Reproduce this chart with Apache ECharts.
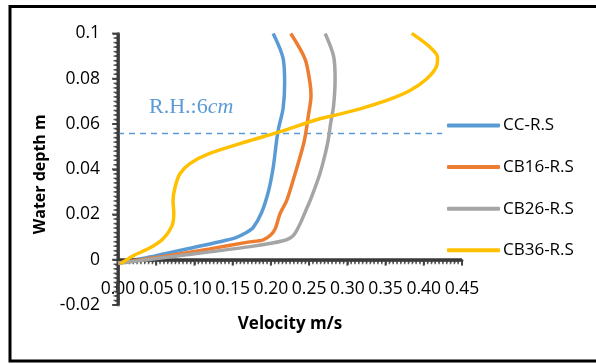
<!DOCTYPE html>
<html><head><meta charset="utf-8">
<script src="https://cdn.jsdelivr.net/npm/echarts@6/dist/echarts.min.js"></script>
<style>html,body{margin:0;padding:0;background:#fff}#c{width:596px;height:364px}</style>
</head><body><div id="c"></div>
<script>
const seriesNames = ['CC-R.S', 'CB16-R.S', 'CB26-R.S', 'CB36-R.S'];
const colors = ['#5B9BD5', '#ED7D31', '#A5A5A5', '#FFC000'];
// [velocity m/s, depth m]
const ccRS = [[0,-0.0015],[0.05,0.0018],[0.1,0.0055],[0.14,0.0085],[0.155,0.0099],[0.168,0.012],[0.177,0.0143],[0.188,0.021],[0.197,0.0305],[0.203,0.0408],[0.2075,0.0527],[0.21,0.058],[0.216,0.067],[0.218,0.078],[0.216,0.089],[0.203,0.1]];
const cb16RS = [[0,-0.0015],[0.06,0.0015],[0.12,0.0048],[0.17,0.0078],[0.19,0.0088],[0.2,0.011],[0.206,0.014],[0.212,0.0204],[0.2205,0.026],[0.229,0.035],[0.238,0.0453],[0.244,0.053],[0.249,0.0637],[0.2525,0.0726],[0.251,0.0785],[0.2446,0.0888],[0.226,0.1]];
const cb26RS = [[0,-0.0015],[0.08,0.0018],[0.173,0.0058],[0.216,0.0084],[0.229,0.0106],[0.238,0.0158],[0.2446,0.0209],[0.253,0.0276],[0.264,0.0379],[0.271,0.0467],[0.275,0.053],[0.278,0.06],[0.282,0.068],[0.284,0.08],[0.282,0.09],[0.271,0.1]];
const cb36RS = [[0.003,-0.0018],[0.02,0.0018],[0.042,0.0053],[0.059,0.0093],[0.0706,0.015],[0.073,0.0204],[0.072,0.026],[0.0746,0.032],[0.081,0.038],[0.094,0.0425],[0.12,0.047],[0.173,0.0527],[0.208,0.0562],[0.264,0.0623],[0.2817,0.0637],[0.3166,0.0667],[0.3515,0.0704],[0.382,0.0748],[0.404,0.08],[0.417,0.0858],[0.418,0.0895],[0.408,0.094],[0.3885,0.0991],[0.384,0.1]];
const rhLine = [[0,0.0558],[0.424,0.0558]];
const xTickLabels = ['0.00','0.05','0.10','0.15','0.20','0.25','0.30','0.35','0.40','0.45'];
const yTickLabels = ['-0.02','0','0.02','0.04','0.06','0.08','0.1'];
const allData = [ccRS, cb16RS, cb26RS, cb36RS];

const X_MIN = 0, X_MAX = 0.45, X_STEP = 0.05;
const Y_MIN = -0.02, Y_MAX = 0.1, Y_STEP = 0.02;
const MINOR = 10;
const INK = '#3a3a3a';
const INK2 = '#666666';

const font = 'Open Sans';
const chart = echarts.init(document.getElementById('c'));

// tick positions derived from the axis settings
const xMajor = xTickLabels.map((_, i) => [X_MIN + i * X_STEP, 0]);
const yMajor = yTickLabels.map((_, i) => [0, Y_MIN + i * Y_STEP]);
const xMinor = [], yMinor = [];
for (let i = 0; i <= (xTickLabels.length - 1) * MINOR; i++) if (i % MINOR) xMinor.push([X_MIN + i * X_STEP / MINOR, 0]);
for (let i = 0; i <= (yTickLabels.length - 1) * MINOR; i++) if (i % MINOR) yMinor.push([0, Y_MIN + i * Y_STEP / MINOR]);

const series = allData.map((d, i) => ({
  name: seriesNames[i], type: 'line', data: d, smooth: 0.3, showSymbol: false, symbol: 'none',
  lineStyle: {color: colors[i], width: 3.5}, itemStyle: {color: colors[i]}, z: 3 + i
}));
series.push({
  name: 'RH', type: 'line', data: rhLine, showSymbol: false, symbol: 'none',
  lineStyle: {color: '#5B9BD5', width: 1.5, type: [6, 5]}, z: 2, silent: true
});
// axis lines (drawn through the scales)
series.push({name: 'xaxisline', type: 'line', data: [[X_MIN, 0], [X_MAX, 0]], showSymbol: false, symbol: 'none',
  clip: false, lineStyle: {color: INK, width: 3}, silent: true});
series.push({name: 'yaxisline', type: 'line', data: [[0, Y_MIN], [0, Y_MAX]], showSymbol: false, symbol: 'none',
  clip: false, lineStyle: {color: INK, width: 3}, silent: true});
// ticks
const tick = (name, data, size, offset) => ({name, type: 'scatter', data, symbol: 'rect', symbolSize: size,
  symbolOffset: offset, clip: false, itemStyle: {color: INK}, silent: true});
series.push(tick('xMajor', xMajor, [2, 6], [0, 3]));
series.push(tick('xMinor', xMinor, [1.5, 4], [0, 2.5]));
series.push(tick('yMajor', yMajor, [6, 2], [-3, 0]));
series.push(tick('yMinor', yMinor, [4, 1.5], [-2.5, 0]));

chart.setOption({
  animation: false,
  grid: {left: 118, right: 134, top: 33.5, bottom: 59, containLabel: false, outerBoundsMode: 'none'},
  xAxis: {
    type: 'value', min: X_MIN, max: X_MAX, interval: X_STEP, position: 'bottom', offset: -45.25,
    axisLine: {show: true, onZero: false, lineStyle: {color: INK2, width: 3}},
    axisTick: {show: true, length: 5, lineStyle: {color: INK2, width: 2}},
    minorTick: {show: true, splitNumber: MINOR, length: 3, lineStyle: {color: INK2, width: 1.5}},
    splitLine: {show: false},
    axisLabel: {show: true, interval: 0, margin: 20, fontFamily: font, fontSize: 17.5, color: '#000',
      formatter: (v) => xTickLabels[Math.round((v - X_MIN) / X_STEP)]},
    name: 'Velocity m/s', nameLocation: 'middle', nameGap: 56,
    nameTextStyle: {fontFamily: font, fontSize: 17, fontWeight: 'bold', color: '#000'}
  },
  yAxis: {
    type: 'value', min: Y_MIN, max: Y_MAX, interval: Y_STEP,
    axisLine: {show: true, onZero: false, lineStyle: {color: INK2, width: 3}},
    axisTick: {show: true, length: 5, lineStyle: {color: INK2, width: 2}},
    minorTick: {show: true, splitNumber: MINOR, length: 3, lineStyle: {color: INK2, width: 1.5}},
    splitLine: {show: false},
    axisLabel: {show: true, margin: 18, fontFamily: font, fontSize: 17.5, color: '#000',
      formatter: (v) => yTickLabels[Math.round((v - Y_MIN) / Y_STEP)]},
    name: 'Water depth m', nameLocation: 'middle', nameGap: 66,
    nameTextStyle: {fontFamily: font, fontSize: 16, fontWeight: 'bold', color: '#000', padding: [0, 10, 0, 0]}
  },
  legend: {
    data: seriesNames, orient: 'vertical', left: 442, top: 112,
    icon: 'roundRect', itemWidth: 53, itemHeight: 4, itemGap: 24.6,
    textStyle: {fontFamily: font, fontSize: 17, color: '#000', padding: [0,0,0,-2]}
  },
  series: series,
  graphic: [
    {type: 'rect', shape: {x: 10, y: 6.5, width: 620, height: 354.5}, style: {fill: 'none', stroke: '#000', lineWidth: 3}, z: 100},
    {type: 'text', left: 149, top: 96, style: {
      text: '{a|R.H.:6}{b|cm}',
      rich: {
        a: {fontFamily: 'Liberation Serif', fontSize: 22, fill: '#5B9BD5'},
        b: {fontFamily: 'Liberation Serif', fontSize: 22, fontStyle: 'italic', fill: '#5B9BD5'}
      }
    }}
  ]
});
</script></body></html>
